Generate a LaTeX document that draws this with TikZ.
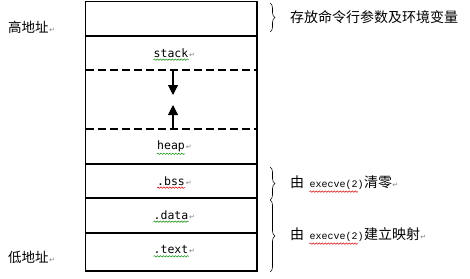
\documentclass[tikz,border=0pt]{standalone}
\usepackage{fontspec}
\usetikzlibrary{arrows.meta,decorations.pathreplacing,decorations.pathmorphing}
\newfontfamily\cjk{Noto Sans CJK SC}
\newfontfamily\lat{DejaVu Sans Mono}
\newfontfamily\tty{Liberation Mono}
\newfontfamily\symf{DejaVu Sans}
\begin{document}
\begin{tikzpicture}[x=1pt,y=-1pt,
  frame/.style={line width=1.2pt},
  dashsep/.style={line width=1.2pt, dash pattern=on 8pt off 4pt},
  lbl/.style={inner sep=0pt, font=\lat\fontsize{11.5}{13}\selectfont},
  cjklbl/.style={inner sep=0pt, font=\cjk\fontsize{13.5}{15}\selectfont},
  cjkr/.style={inner sep=0pt, font=\cjk\fontsize{14}{16}\selectfont},
  ttlbl/.style={inner sep=0pt, font=\tty\fontsize{10}{12}\selectfont},
  pm/.style={inner sep=0pt, text=gray, font=\symf\fontsize{7}{8}\selectfont},
  wavyg/.style={decorate, decoration={snake, amplitude=0.7pt, segment length=3pt}, line width=0.5pt, draw=green!55!black},
  wavyr/.style={decorate, decoration={snake, amplitude=0.7pt, segment length=3pt}, line width=0.5pt, draw=red!85!black},
  brc/.style={decorate, decoration={brace, amplitude=5pt}, line width=0.6pt},
  growarrow/.style={line width=1.1pt, -{Triangle[width=10pt,length=10pt]}}]
\useasboundingbox (0,0) rectangle (470,278);
% box
\coordinate (tl) at (85.5,1.5);
\coordinate (br) at (257,271);
\draw[frame] (tl) rectangle (br);
\draw[frame] (85.5,36) -- (257,36);
\draw[dashsep] (85.5,70) -- (257,70);
\draw[dashsep] (85.5,129) -- (257,129);
\draw[frame] (85.5,164) -- (257,164);
\draw[frame] (85.5,198) -- (257,198);
\draw[frame] (85.5,233) -- (257,233);
% arrows
\coordinate (d1) at (173,70);
\coordinate (d2) at (173,95);
\coordinate (u1) at (173,129);
\coordinate (u2) at (173,105);
\draw[growarrow] (d1) -- (d2);
\draw[growarrow] (u1) -- (u2);
% segment labels
\node[lbl] (stack) at (171,53) {stack};
\node[lbl] (heap) at (171,146) {heap};
\node[lbl] (bss) at (171,181) {.bss};
\node[lbl] (data) at (171,215) {.data};
\node[lbl] (text) at (171,250) {.text};
\foreach \n in {stack,heap,bss,data,text}{
  \node[pm, anchor=base west] (pm\n) at ([xshift=0.5pt]\n.base east) {↵};
}
\foreach \n in {stack,heap,data,text}{
  \draw[wavyg] ([yshift=-2pt]\n.south west) -- ([yshift=-2pt]\n.south east);
}
\draw[wavyr] ([yshift=-2pt]bss.south west) -- ([yshift=-2pt]bss.south east);
% left labels
\node[cjklbl, anchor=west] (hi) at (8,27) {高地址};
\node[pm, anchor=base west] (pmhi) at (hi.base east) {↵};
\node[cjklbl, anchor=west] (lo) at (8,257) {低地址};
\node[pm, anchor=base west] (pmlo) at (lo.base east) {↵};
% braces
\draw[brc] (270,3) -- (270,32);
\draw[brc] (270,167) -- (270,200);
\draw[brc] (270,200) -- (270,272);
% right labels
\node[cjkr, anchor=west] (args) at (290,17) {存放命令行参数及环境变量};
\node[cjkr, anchor=west] (you1) at (290,182) {由};
\node[ttlbl, anchor=base west] (ex1) at ([xshift=5pt]you1.base east) {execve(2)};
\node[cjkr, anchor=base west] (zero) at (ex1.base east) {清零};
\node[pm, anchor=base west] (pmzero) at (zero.base east) {↵};
\draw[wavyr] ([yshift=-2pt]ex1.south west) -- ([yshift=-2pt,xshift=-6pt]ex1.south east);
\node[cjkr, anchor=west] (you2) at (290,234) {由};
\node[ttlbl, anchor=base west] (ex2) at ([xshift=5pt]you2.base east) {execve(2)};
\node[cjkr, anchor=base west] (map) at (ex2.base east) {建立映射};
\node[pm, anchor=base west] (pmmap) at (map.base east) {↵};
\draw[wavyr] ([yshift=-2pt]ex2.south west) -- ([yshift=-2pt,xshift=-6pt]ex2.south east);
\end{tikzpicture}
\end{document}
